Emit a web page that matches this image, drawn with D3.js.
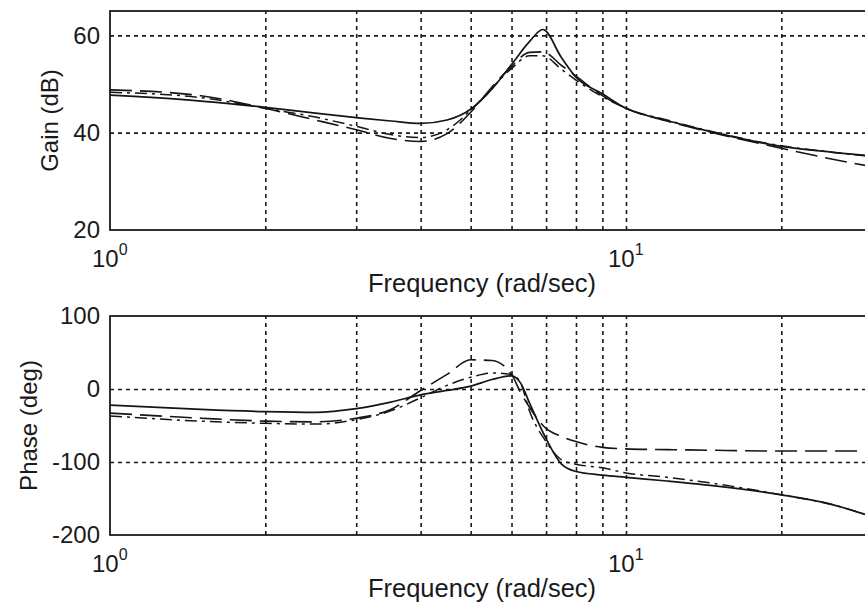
<!DOCTYPE html>
<html>
<head>
<meta charset="utf-8">
<script src="https://cdn.jsdelivr.net/npm/d3@7/dist/d3.min.js"></script>
<style>
  html, body { margin: 0; padding: 0; background: #fff; }
  svg { display: block; }
  text { font-family: "Liberation Sans", Arial, sans-serif; fill: #1a1a1a; }
</style>
</head>
<body>
<svg id="chart" width="865" height="606"></svg>
<script>
// ---------- data ----------
const gainFreq = [1, 1.5, 2, 2.5, 3, 3.5, 4, 4.5, 5, 5.5, 6, 6.5, 6.9, 7.5, 8, 9, 10, 12, 15, 20, 25, 30];
const gainSolid   = [47.7, 46.5, 45.2, 44.0, 43.1, 42.4, 41.9, 42.6, 44.8, 49.0, 54.0, 58.7, 61.2, 55.4, 51.4, 48.0, 45.0, 42.5, 39.9, 37.2, 36.0, 35.2];
const gainDash    = [48.8, 47.6, 45.0, 42.6, 40.6, 38.8, 38.2, 39.8, 44.2, 49.4, 53.6, 56.5, 56.6, 53.8, 51.6, 47.6, 45.0, 42.4, 39.8, 36.8, 34.6, 33.0];
const gainDashDot = [48.3, 47.2, 45.0, 43.2, 41.3, 39.6, 39.0, 40.6, 44.6, 49.2, 53.2, 55.8, 55.8, 53.0, 50.8, 47.4, 45.0, 42.6, 40.0, 37.3, 36.0, 35.1];

const phaseFreq = [1, 1.5, 2, 2.5, 3, 3.5, 4, 4.5, 5, 5.5, 6, 6.25, 6.5, 7, 7.5, 8, 9, 10, 12, 15, 20, 25, 30];
const phaseSolid    = [-22, -28, -31, -32, -27, -18, -8, -2, 4, 13, 18, 8, -19, -68, -103, -113, -118, -121, -126, -133, -145, -158, -175];
const phaseDash     = [-33, -40, -44, -45, -40, -28, -2, 20, 40, 39, 20, -5, -25, -54, -65, -72, -80, -82, -83, -84, -85, -85, -85];
const phaseDashDot  = [-37, -44, -47, -48, -42, -30, -12, 5, 16, 22, 20, 8, -30, -72, -97, -103, -108, -115, -121, -130, -145, -158, -175];

const gainTicks = [20, 40, 60];
const phaseTicks = [-200, -100, 0, 100];
const gridFreqs = [2, 3, 4, 5, 6, 7, 8, 9, 10, 20, 30, 40, 50, 60, 70, 80, 90];
const decadeTicks = [1, 10];
const xLabel = "Frequency (rad/sec)";

// ---------- layout ----------
const svg = d3.select("#chart");
const left = 110, right = 1142;
const x = d3.scaleLog().domain([1, 100]).range([left, right]);

const panels = [
  { top: 11, bottom: 230, domain: [20, 65], ticks: gainTicks, label: "Gain (dB)", labelX: 58,
    freq: gainFreq, series: [gainSolid, gainDash, gainDashDot], xlabBase: 292 },
  { top: 316, bottom: 535, domain: [-200, 100], ticks: phaseTicks, label: "Phase (deg)", labelX: 37,
    freq: phaseFreq, series: [phaseSolid, phaseDash, phaseDashDot], xlabBase: 597 }
];
const styles = [
  { dash: null, w: 1.7 },
  { dash: "22,8", w: 1.6 },
  { dash: "12,5,3,5", w: 1.5 }
];

panels.forEach((p, pi) => {
  const y = d3.scaleLinear().domain(p.domain).range([p.bottom, p.top]);
  const g = svg.append("g");
  const h = p.bottom - p.top;

  const clipId = "clip" + pi;
  svg.append("clipPath").attr("id", clipId).append("rect")
    .attr("x", left).attr("y", p.top).attr("width", right - left).attr("height", h);

  // horizontal grid
  g.append("g").attr("transform", `translate(${left},0)`)
    .call(d3.axisLeft(y).tickValues(p.ticks.filter(t => t > p.domain[0] && t < p.domain[1]))
      .tickSize(-(right - left)).tickFormat(""))
    .call(s => s.select(".domain").remove())
    .call(s => s.selectAll("line").attr("stroke", "#1a1a1a").attr("stroke-width", 1.6).attr("stroke-dasharray", "4,4"));

  // vertical grid
  g.append("g").attr("transform", `translate(0,${p.bottom})`)
    .call(d3.axisBottom(x).tickValues(gridFreqs).tickSize(-h).tickFormat(""))
    .call(s => s.select(".domain").remove())
    .call(s => s.selectAll("line").attr("stroke", "#1a1a1a").attr("stroke-width", 1.6).attr("stroke-dasharray", "4,4"));

  // y tick labels
  g.append("g").attr("transform", `translate(${left},0)`)
    .call(d3.axisLeft(y).tickValues(p.ticks).tickSize(0).tickPadding(10).tickFormat(d => String(d)))
    .call(s => s.select(".domain").remove())
    .call(s => s.selectAll("text").attr("font-size", 24).attr("fill", "#1a1a1a")
      .style("font-family", '"Liberation Sans", Arial, sans-serif'));

  // x tick labels (10^n)
  const xt = g.append("g");
  decadeTicks.forEach(d => {
    const e = Math.round(Math.log10(d));
    const t = xt.append("text").attr("x", x(d) - 18).attr("y", p.bottom + 37)
      .attr("font-size", 24);
    t.append("tspan").text("10");
    t.append("tspan").attr("font-size", 16).attr("dy", -12).text(String(e));
  });

  // curves
  const line = d3.line().x(d => x(d[0])).y(d => y(d[1])).curve(d3.curveMonotoneX);
  const cg = g.append("g").attr("clip-path", `url(#${clipId})`);
  p.series.forEach((vals, si) => {
    const pts = p.freq.map((f, i) => [f, vals[i]]);
    cg.append("path").datum(pts).attr("d", line)
      .attr("fill", "none").attr("stroke", "#151515")
      .attr("stroke-width", styles[si].w)
      .attr("stroke-dasharray", styles[si].dash);
  });

  // box
  g.append("rect").attr("x", left).attr("y", p.top).attr("width", right - left).attr("height", h)
    .attr("fill", "none").attr("stroke", "#1a1a1a").attr("stroke-width", 1.8);

  // axis labels
  g.append("text").attr("transform", `translate(${p.labelX},${(p.top + p.bottom) / 2}) rotate(-90)`)
    .attr("text-anchor", "middle").attr("font-size", 24).text(p.label);
  g.append("text").attr("x", 482).attr("y", p.xlabBase).attr("text-anchor", "middle")
    .attr("font-size", 25.5).text(xLabel);
});
</script>
</body>
</html>
